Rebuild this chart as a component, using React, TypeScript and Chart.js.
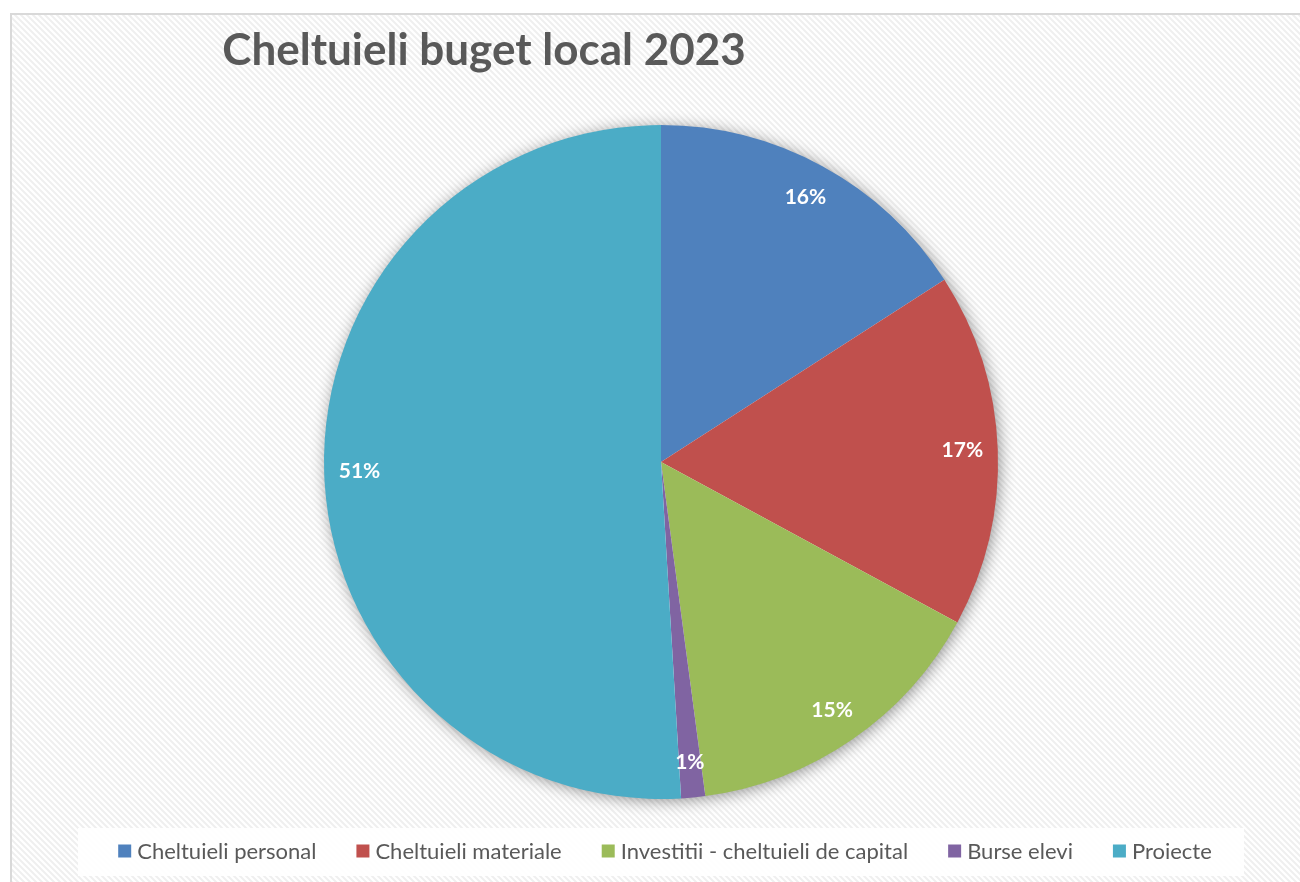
import React, { useEffect, useRef } from "react";
import { Chart, registerables } from "chart.js";

Chart.register(...registerables);

const titleText = "Cheltuieli buget local 2023";
const categories = [
  "Cheltuieli personal",
  "Cheltuieli materiale",
  "Investitii - cheltuieli de capital",
  "Burse elevi",
  "Proiecte",
];
const shares = [15.9, 17.0, 15.0, 1.15, 50.95];
const sliceColors = ["#4F81BD", "#C0504D", "#9BBB59", "#8064A2", "#4BACC6"];

const FONT = "Lato, 'Open Sans', sans-serif";
const TEXT_GRAY = "#595959";

function makeHatch(ctx: CanvasRenderingContext2D) {
  const c = document.createElement("canvas");
  c.width = 6;
  c.height = 6;
  const p = c.getContext("2d")!;
  p.fillStyle = "#ffffff";
  p.fillRect(0, 0, 6, 6);
  p.strokeStyle = "#efefef";
  p.lineWidth = 2;
  p.beginPath();
  p.moveTo(-3, -3);
  p.lineTo(9, 9);
  p.moveTo(-3, 3);
  p.lineTo(3, 9);
  p.moveTo(3, -3);
  p.lineTo(9, 3);
  p.stroke();
  return ctx.createPattern(c, "repeat")!;
}

const backgroundPlugin = {
  id: "bgFrame",
  beforeDraw(chart: any) {
    const ctx: CanvasRenderingContext2D = chart.ctx;
    ctx.save();
    ctx.fillStyle = "#ffffff";
    ctx.fillRect(0, 0, chart.width, chart.height);
    ctx.fillStyle = makeHatch(ctx);
    ctx.fillRect(11, 14, chart.width, chart.height);
    ctx.strokeStyle = "#d9d9d9";
    ctx.lineWidth = 2;
    ctx.strokeRect(11, 14, chart.width + 20, chart.height + 20);
    // title
    ctx.fillStyle = TEXT_GRAY;
    ctx.font = `bold 44px ${FONT}`;
    ctx.textAlign = "center";
    ctx.textBaseline = "alphabetic";
    ctx.fillText(titleText, 484, 65);
    ctx.restore();
  },
  beforeDatasetsDraw(chart: any) {
    const arc = chart.getDatasetMeta(0).data[0];
    if (!arc) return;
    const { x, y, outerRadius } = arc.getProps(["x", "y", "outerRadius"], true);
    const ctx: CanvasRenderingContext2D = chart.ctx;
    ctx.save();
    ctx.shadowColor = "rgba(0,0,0,0.45)";
    ctx.shadowBlur = 16;
    ctx.shadowOffsetX = 2;
    ctx.shadowOffsetY = 2;
    ctx.fillStyle = "#ffffff";
    ctx.beginPath();
    ctx.arc(x, y, outerRadius - 1, 0, Math.PI * 2);
    ctx.fill();
    ctx.restore();
  },
  afterDatasetsDraw(chart: any) {
    const ctx: CanvasRenderingContext2D = chart.ctx;
    const meta = chart.getDatasetMeta(0);
    const data: number[] = chart.data.datasets[0].data;
    const total = data.reduce((a, b) => a + b, 0);
    ctx.save();
    ctx.fillStyle = "#ffffff";
    ctx.font = `bold 21px ${FONT}`;
    ctx.textAlign = "center";
    ctx.textBaseline = "middle";
    meta.data.forEach((el: any, i: number) => {
      const { x, y, startAngle, endAngle, outerRadius } = el.getProps(
        ["x", "y", "startAngle", "endAngle", "outerRadius"],
        true
      );
      const mid = (startAngle + endAngle) / 2;
      const r = outerRadius * 0.895;
      const txt = Math.round((data[i] / total) * 100) + "%";
      ctx.fillText(txt, x + Math.cos(mid) * r, y + Math.sin(mid) * r);
    });
    ctx.restore();
  },
  afterDraw(chart: any) {
    const ctx: CanvasRenderingContext2D = chart.ctx;
    ctx.save();
    ctx.fillStyle = "rgba(255,255,255,0.92)";
    ctx.fillRect(78, 828, 1166, 48);
    ctx.font = `22px ${FONT}`;
    const box = 13;
    const gapText = 6;
    const gapItem = 40;
    const labels: string[] = chart.data.labels;
    const colors: string[] = chart.data.datasets[0].backgroundColor;
    const widths = labels.map((l) => ctx.measureText(l).width);
    const total =
      widths.reduce((a, b) => a + b, 0) +
      labels.length * (box + gapText) +
      (labels.length - 1) * gapItem;
    let cx = 665 - total / 2;
    const cy = 851;
    ctx.textBaseline = "middle";
    ctx.textAlign = "left";
    labels.forEach((l, i) => {
      ctx.fillStyle = colors[i];
      ctx.fillRect(cx, cy - box / 2, box, box);
      cx += box + gapText;
      ctx.fillStyle = TEXT_GRAY;
      ctx.fillText(l, cx, cy + 1);
      cx += widths[i] + gapItem;
    });
    ctx.restore();
  },
};

export default function App() {
  const ref = useRef<HTMLCanvasElement>(null);
  useEffect(() => {
    if (!ref.current) return;
    const chart = new Chart(ref.current, {
      type: "pie",
      data: {
        labels: categories,
        datasets: [
          {
            data: shares,
            backgroundColor: sliceColors,
            borderWidth: 0,
          },
        ],
      },
      options: {
        responsive: false,
        animation: false,
        devicePixelRatio: 1,
        layout: { padding: { left: 324, right: 302, top: 125, bottom: 83 } },
        plugins: {
          legend: { display: false },
          title: { display: false },
          tooltip: { enabled: false },
        },
      },
      plugins: [backgroundPlugin],
    });
    return () => chart.destroy();
  }, []);
  return (
    <div style={{ position: "fixed", left: 0, top: 0, width: 1300, height: 882 }}>
      <canvas ref={ref} width={1300} height={882} />
    </div>
  );
}
